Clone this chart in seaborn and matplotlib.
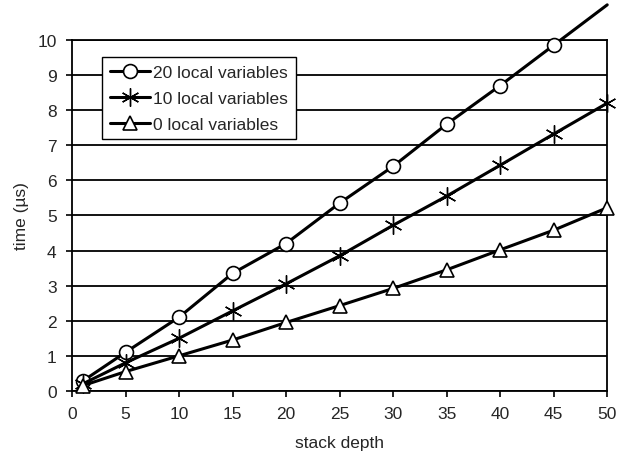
import numpy as np
import pandas as pd
import seaborn as sns
import matplotlib.pyplot as plt

# values
depth = [1, 5, 10, 15, 20, 25, 30, 35, 40, 45, 50]
vars_20 = [0.28, 1.1, 2.1, 3.35, 4.2, 5.35, 6.4, 7.6, 8.7, 9.85, 11.0]
vars_10 = [0.2, 0.8, 1.5, 2.28, 3.05, 3.85, 4.72, 5.55, 6.43, 7.32, 8.2]
vars_0 = [0.15, 0.55, 1.0, 1.45, 1.95, 2.43, 2.92, 3.45, 4.02, 4.58, 5.22]
labels = ['20 local variables', '10 local variables', '0 local variables']

sns.set_style('white')
plt.rcParams['font.family'] = ['Liberation Sans', 'DejaVu Sans']

fig, ax = plt.subplots(figsize=(6.26, 4.6), dpi=100)
fig.subplots_adjust(left=0.115, right=0.970, bottom=0.148, top=0.911)

common = dict(color='black', linewidth=2.2, markersize=10, markeredgewidth=1.2,
              markerfacecolor='white', markeredgecolor='black', clip_on=False, zorder=3)

# 20 vars: last point lies above the axes, no marker drawn there
sns.lineplot(x=depth, y=vars_20, ax=ax, marker='o', markevery=list(range(len(depth) - 1)),
             label=labels[0], **common)
sns.lineplot(x=depth, y=vars_10, ax=ax, marker=(6, 2, 0), label=labels[1],
             **{**common, 'markersize': 13, 'markeredgewidth': 1.0})
sns.lineplot(x=depth, y=vars_0, ax=ax, marker='^', label=labels[2], **common)

ax.set_xlim(0, 50)
ax.set_ylim(0, 10)
ax.set_xticks(np.arange(0, 51, 5))
ax.set_yticks(np.arange(0, 11, 1))
ax.yaxis.grid(True, color='black', linewidth=1.3)
ax.set_axisbelow(True)
for s in ax.spines.values():
    s.set_color('black')
    s.set_linewidth(1.3)
ax.tick_params(axis='both', direction='out', length=4, width=1.2, color='black',
               labelsize=12.5, left=True, bottom=True)
ax.tick_params(axis='y', pad=7)
ax.tick_params(axis='x', pad=7)

ax.set_xlabel('stack depth', fontsize=12.5, labelpad=10)
ax.set_ylabel('time (µs)', fontsize=12.5, labelpad=6)

leg = ax.legend(loc='upper left', bbox_to_anchor=(0.056, 0.95), fontsize=12.5,
                frameon=True, fancybox=False, edgecolor='black', framealpha=1,
                handlelength=2.3, handletextpad=0.2, borderpad=0.45, labelspacing=0.6,
                borderaxespad=0)
leg.get_frame().set_linewidth(1.0)

plt.savefig('out.png', dpi=100)
